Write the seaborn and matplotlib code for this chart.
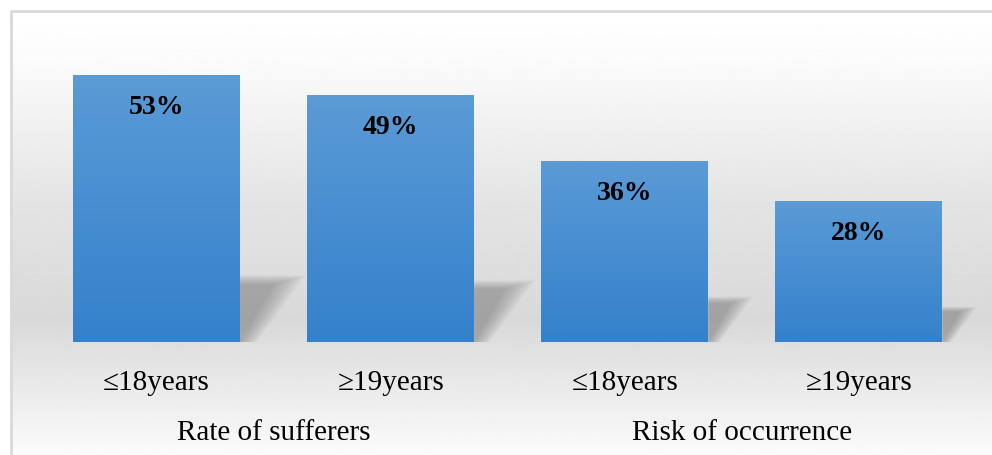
import numpy as np
import pandas as pd
import matplotlib
matplotlib.use('Agg')
import matplotlib.pyplot as plt
from matplotlib.patches import Polygon
import matplotlib.transforms as mtransforms
import seaborn as sns

# 数据
groups = ['Rate of sufferers', 'Rate of sufferers', 'Risk of occurrence', 'Risk of occurrence']
ages = ['\u226418years', '\u226519years', '\u226418years', '\u226519years']
values = [53, 49, 36, 28]
group_names = ['Rate of sufferers', 'Risk of occurrence']

df = pd.DataFrame({'key': [g + a for g, a in zip(groups, ages)], 'age': ages, 'group': groups, 'value': values})

sns.set_style('white')
plt.rcParams['font.family'] = ['Liberation Serif', 'DejaVu Serif']
plt.rcParams['text.color'] = 'black'
plt.rcParams['xtick.color'] = 'black'

fig = plt.figure(figsize=(9.92, 4.55), dpi=100)

# 背景渐变 + 边框
bg = fig.add_axes([0, 0, 1, 1])
bg.axis('off')
rows = np.arange(11, 456)
shade = np.interp(rows, [11, 60, 200, 320, 455], [1.0, 0.985, 0.895, 0.85, 0.985])
bg.imshow(shade[:, None], extent=[11, 992, 455, 11], cmap='gray', vmin=0, vmax=1, aspect='auto', zorder=0)
bg.plot([10.5, 10.5, 992], [456, 10.5, 10.5], color='#d9d9d9', lw=2, zorder=1)
bg.set_xlim(0, 992)
bg.set_ylim(455, 0)

ax = fig.add_axes([39.5 / 992, 113 / 455, 936.5 / 992, 302.4 / 455])
ax.patch.set_alpha(0)
sns.barplot(data=df, x='key', y='value', color='#4a8fd2', width=0.713, linewidth=0, ax=ax, zorder=3)

# 柱子渐变
top_c = np.array([91, 155, 214]) / 255
bot_c = np.array([52, 129, 203]) / 255
t = np.linspace(0, 1, 200)[:, None]
grad = (top_c * (1 - t) + bot_c * t)[:, None, :]
shadow_k = 0.0053
n_layers = 12
for p in ax.patches:
    x0, w, h = p.get_x(), p.get_width(), p.get_height()
    im = ax.imshow(grad, extent=[x0, x0 + w, 0, h], aspect='auto', zorder=3)
    im.set_clip_path(p)
    # 阴影（多层叠加模拟模糊）
    right = x0 + w
    sh = 0.25 * h
    sw = shadow_k * h
    for k in range(n_layers):
        f = k / (n_layers - 1)
        top = sh * (1.0 - 0.14 * f)
        poly = Polygon([(right, 0), (right, top), (right + sw * (1.0 - 0.5 * f), top),
                        (right + sw * 0.25 * (1 - f), 0)],
                       closed=True, facecolor='#6e6e6e', edgecolor='none', alpha=0.05, zorder=1)
        ax.add_patch(poly)
    ax.annotate(f'{int(round(h))}%', (x0 + w / 2, h), xytext=(0, -23.5), textcoords='offset points',
                ha='center', va='center', fontsize=20, fontweight='bold', color='black', zorder=4)

ax.set_ylim(0, 60)
ax.set_xlim(-0.5, 3.5)
ax.set_xticks(range(len(ages)))
ax.set_xticklabels(ages, fontsize=21, color='black')
ax.tick_params(axis='x', length=0, pad=20)
ax.set_yticks([])
ax.set_xlabel('')
ax.set_ylabel('')
for s in ax.spines.values():
    s.set_visible(False)

trans = mtransforms.blended_transform_factory(ax.transData, ax.transAxes)
for i, g in enumerate(group_names):
    ax.text(2 * i + 0.5, -0.30, g, transform=trans, ha='center', va='center', fontsize=21, color='black')

plt.savefig('out.png', dpi=100)
